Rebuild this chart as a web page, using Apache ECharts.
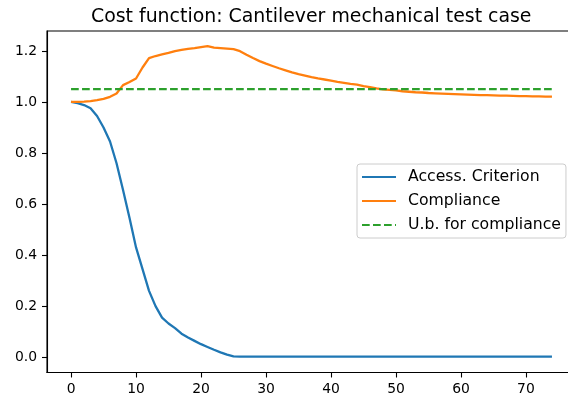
<!DOCTYPE html>
<html>
<head>
<meta charset="utf-8">
<script src="https://cdn.jsdelivr.net/npm/echarts@6/dist/echarts.min.js"></script>
<style>
  html, body { margin: 0; padding: 0; background: #fff; overflow: hidden; }
  /* the reference plot frame runs a few px past the right edge of the picture */
  #chart { width: 576px; height: 399px; }
</style>
</head>
<body>
<div id="chart"></div>
<script>
// values, one per iteration (0..74)
const accessCriterion = [
  1.000, 0.995, 0.988, 0.975, 0.945, 0.900, 0.845, 0.760, 0.655, 0.545,
  0.430, 0.345, 0.260, 0.200, 0.155, 0.132, 0.114, 0.092, 0.077, 0.064,
  0.051, 0.040, 0.029, 0.019, 0.010, 0.003, 0.002, 0.002, 0.002, 0.002,
  0.002, 0.002, 0.002, 0.002, 0.002, 0.002, 0.002, 0.002, 0.002, 0.002,
  0.002, 0.002, 0.002, 0.002, 0.002, 0.002, 0.002, 0.002, 0.002, 0.002,
  0.002, 0.002, 0.002, 0.002, 0.002, 0.002, 0.002, 0.002, 0.002, 0.002,
  0.002, 0.002, 0.002, 0.002, 0.002, 0.002, 0.002, 0.002, 0.002, 0.002,
  0.002, 0.002, 0.002, 0.002, 0.002
]
const compliance = [
  1.000, 1.000, 1.001, 1.003, 1.007, 1.012, 1.020, 1.033, 1.066, 1.078,
  1.092, 1.135, 1.172, 1.180, 1.186, 1.192, 1.199, 1.204, 1.208, 1.211,
  1.215, 1.219, 1.213, 1.211, 1.209, 1.207, 1.199, 1.185, 1.172, 1.160,
  1.150, 1.141, 1.132, 1.124, 1.116, 1.109, 1.103, 1.097, 1.092, 1.088,
  1.084, 1.079, 1.075, 1.071, 1.068, 1.062, 1.058, 1.053, 1.049, 1.047,
  1.045, 1.042, 1.040, 1.038, 1.037, 1.035, 1.034, 1.033, 1.032, 1.031,
  1.030, 1.029, 1.028, 1.027, 1.027, 1.026, 1.025, 1.025, 1.024, 1.023,
  1.023, 1.022, 1.022, 1.021, 1.021
]
const ubX = [0, 74]
const ubY = [1.05, 1.05]

const xTicks = [0, 10, 20, 30, 40, 50, 60, 70]
const yTicks = [0, 0.2, 0.4, 0.6, 0.8, 1.0, 1.2]

const seriesNames = ['Access. Criterion', 'Compliance', 'U.b. for compliance']
const colors = ['#1f77b4', '#ff7f0e', '#2ca02c']

const FONT = 'DejaVu Sans'

const chart = echarts.init(document.getElementById('chart'), null, { renderer: 'canvas' })

const toPairs = vals => vals.map((v, i) => [i, v])

const option = {
  animation: false,
  backgroundColor: '#fff',
  title: {
    text: 'Cost function: Cantilever mechanical test case',
    left: 86,
    top: 3,
    textStyle: { fontFamily: FONT, fontSize: 18.9, fontWeight: 'normal', color: '#000' }
  },
  legend: {
    orient: 'vertical',
    left: 357,
    top: 164,
    padding: [5, 5, 5, 4],
    itemWidth: 34,
    itemHeight: 16,
    itemGap: 8,
    itemStyle: { opacity: 0 },
    backgroundColor: 'rgba(255,255,255,0.8)',
    borderColor: '#cccccc',
    borderWidth: 1,
    borderRadius: 3,
    textStyle: { fontFamily: FONT, fontSize: 15.7, color: '#000', padding: [0, 0, 0, 7] },
    data: seriesNames
  },
  grid: {
    left: 47, right: 0, top: 31, bottom: 26.5,
    show: true, borderColor: '#000', borderWidth: 1.1, backgroundColor: 'transparent'
  },
  xAxis: {
    type: 'value',
    min: -3.7,
    max: 77.7,
    axisLine: { show: true, onZero: false, lineStyle: { color: '#000', width: 1.1 } },
    axisTick: { show: true, length: 5, customValues: xTicks, lineStyle: { color: '#000', width: 1.1 } },
    axisLabel: {
      customValues: xTicks, margin: 10,
      fontFamily: FONT, fontSize: 13.9, color: '#000'
    },
    splitLine: { show: false }
  },
  yAxis: {
    type: 'value',
    min: -0.06,
    max: 1.278,
    axisLine: { show: true, onZero: false, lineStyle: { color: '#000', width: 1.1 } },
    axisTick: { show: true, length: 5, customValues: yTicks, lineStyle: { color: '#000', width: 1.1 } },
    axisLabel: {
      customValues: yTicks, margin: 10,
      fontFamily: FONT, fontSize: 13.9, color: '#000',
      formatter: v => v.toFixed(1)
    },
    splitLine: { show: false }
  },
  series: [
    {
      name: seriesNames[0],
      type: 'line',
      data: toPairs(accessCriterion),
      symbol: 'none',
      color: colors[0],
      lineStyle: { width: 2.3, color: colors[0] }
    },
    {
      name: seriesNames[1],
      type: 'line',
      data: toPairs(compliance),
      symbol: 'none',
      color: colors[1],
      lineStyle: { width: 2.3, color: colors[1] }
    },
    {
      name: seriesNames[2],
      type: 'line',
      data: ubX.map((x, i) => [x, ubY[i]]),
      symbol: 'none',
      color: colors[2],
      lineStyle: { width: 2.3, color: colors[2], type: [7.7, 3.3] }
    }
  ]
}

chart.setOption(option)
</script>
</body>
</html>
